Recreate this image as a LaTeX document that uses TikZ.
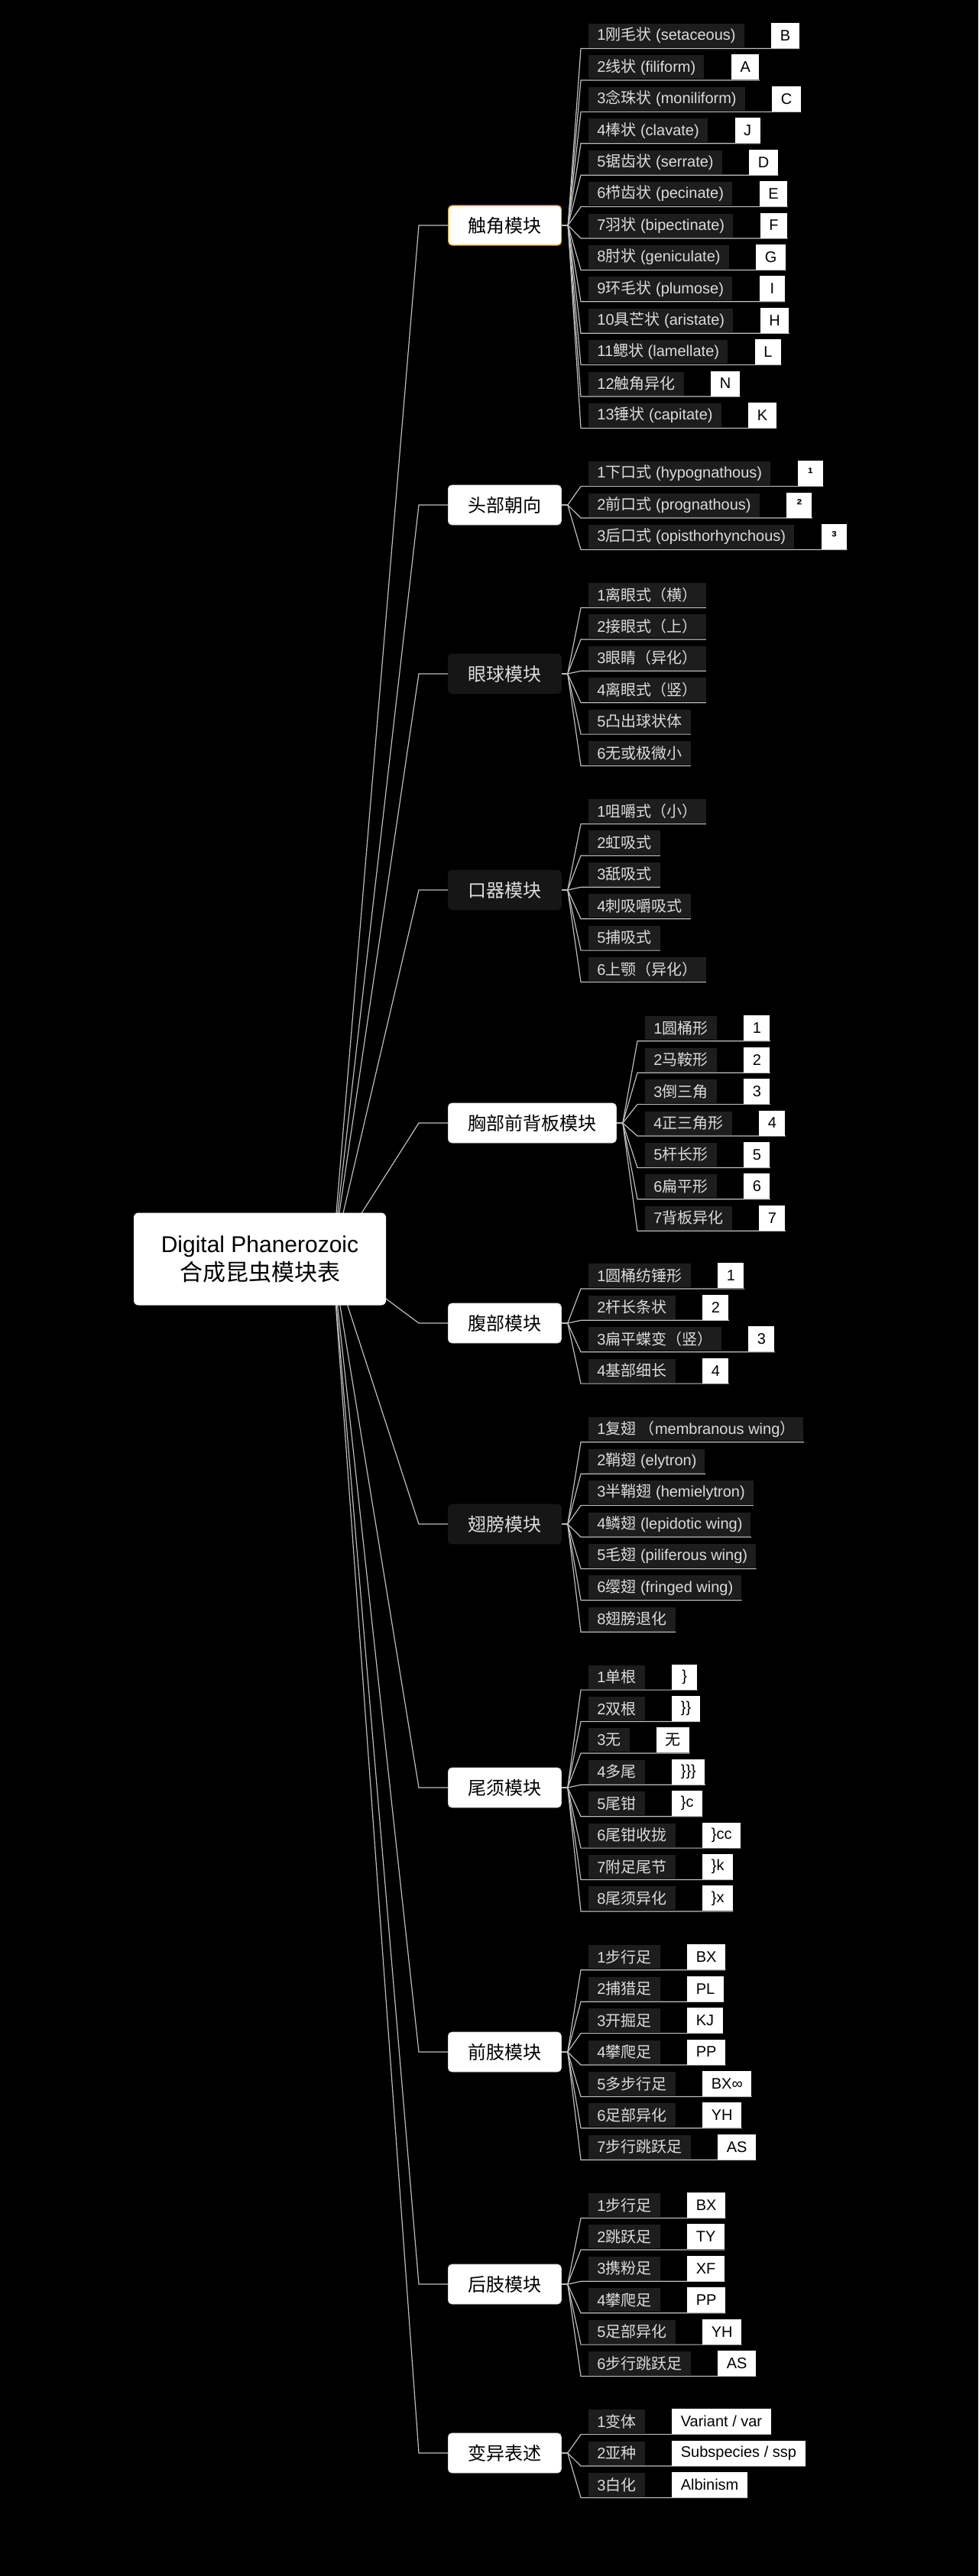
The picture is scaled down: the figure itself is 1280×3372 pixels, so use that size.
\documentclass[tikz,border=0pt]{standalone}
\usepackage{fontspec}
\setmainfont{Liberation Sans}
\newfontfamily\cjk{Noto Sans CJK SC}
\newcommand\zh[1]{{\cjk #1}}
\usetikzlibrary{
  positioning,
}
\pgfdeclarelayer{canvas}
\pgfdeclarelayer{wires}
\pgfsetlayers{canvas,wires,main}

\definecolor{leafgray}{HTML}{1D1D1D}
\definecolor{modgray}{HTML}{161616}
\definecolor{leaftext}{HTML}{DCDCDC}
\definecolor{wiregray}{HTML}{BEBEBE}
\definecolor{gold}{HTML}{E0A020}

\tikzset{
  root/.style={
    rectangle,
    rounded corners=3pt,
    fill=white,
    text=black,
    align=center,
    minimum width=165pt,
    minimum height=60.5pt,
    font=\fontsize{15}{18.5}\selectfont
  },
  module/.style={
    rectangle,
    rounded corners=2.5pt,
    fill=white,
    draw=white!85!black,
    line width=0.4pt,
    text=black,
    anchor=west,
    minimum height=26pt,
    inner xsep=13pt,
    font=\cjk\fontsize{12}{14}\selectfont
  },
  darkmodule/.style={
    module,
    fill=modgray,
    draw=modgray,
    text=leaftext
  },
  picked/.style={
    module,
    draw=gold,
    line width=0.6pt
  },
  leaf/.style={
    rectangle,
    fill=leafgray,
    text=leaftext,
    anchor=west,
    minimum height=15.5pt,
    inner xsep=5.5pt,
    inner ysep=0pt,
    font=\fontsize{10}{12}\selectfont
  },
  code/.style={
    rectangle,
    fill=white,
    text=black,
    minimum height=16.5pt,
    minimum width=16.5pt,
    inner xsep=5.75pt,
    inner ysep=0pt,
    font=\fontsize{10}{12}\selectfont
  },
  wire/.style={
    draw=wiregray,
    line width=0.6pt
  },
}

\begin{document}
\begin{tikzpicture}[x=0.5pt, y=-0.5pt]

  \useasboundingbox (0,0) rectangle (1280,3372);
  \begin{pgfonlayer}{canvas}
    \fill[black] (0,0) rectangle (1280,3372);
  \end{pgfonlayer}

  \node[root] (root) at (340,1648) {Digital Phanerozoic\\\zh{合成昆虫模块表}};

  \node[picked] (antenna) at (586,295) {触角模块};
  \node[module] (head) at (586,661) {头部朝向};
  \node[darkmodule] (eye) at (586,882) {眼球模块};
  \node[darkmodule] (mouth) at (586,1165) {口器模块};
  \node[module] (thorax) at (586,1470) {胸部前背板模块};
  \node[module] (abdomen) at (586,1732) {腹部模块};
  \node[darkmodule] (wing) at (586,1995) {翅膀模块};
  \node[module] (cerci) at (586,2340) {尾须模块};
  \node[module] (foreleg) at (586,2686) {前肢模块};
  \node[module] (hindleg) at (586,2990) {后肢模块};
  \node[module] (variant) at (586,3211) {变异表述};

  % root to modules
  \coordinate (hub) at (435,1648);
  \begin{pgfonlayer}{wires}
    \foreach \m in {antenna,head,eye,mouth,thorax,abdomen,wing,cerci,foreleg,hindleg,variant}
      \draw[wire] (hub) -- ([xshift=-19pt]\m.west) -- (\m.west);
  \end{pgfonlayer}

  % antennae
  \foreach \txt/\tag [count=\i] in {
    {1\zh{刚毛状} (setaceous)}/B,
    {2\zh{线状} (filiform)}/A,
    {3\zh{念珠状} (moniliform)}/C,
    {4\zh{棒状} (clavate)}/J,
    {5\zh{锯齿状} (serrate)}/D,
    {6\zh{栉齿状} (pecinate)}/E,
    {7\zh{羽状} (bipectinate)}/F,
    {8\zh{肘状} (geniculate)}/G,
    {9\zh{环毛状} (plumose)}/I,
    {10\zh{具芒状} (aristate)}/H,
    {11\zh{鳃状} (lamellate)}/L,
    {12\zh{触角异化}}/N,
    {13\zh{锤状} (capitate)}/K%
  }{
    \pgfmathsetmacro\y{295+(\i-7)*41.4}
    \node[leaf] (ant-\i) at (770,\y) {\txt};
    \node[code, right=17.5pt of ant-\i] (ant-\i-c) {\tag};
    \coordinate (u) at (760,\y+17);
    \begin{pgfonlayer}{wires}
      \draw[wire] (antenna.east) -- ++(8,0) -- (u) -- (ant-\i-c.east |- u);
    \end{pgfonlayer}
  }

  % head
  \foreach \txt/\tag [count=\i] in {
    {1\zh{下口式} (hypognathous)}/\textbf{¹},
    {2\zh{前口式} (prognathous)}/\textbf{²},
    {3\zh{后口式} (opisthorhynchous)}/\textbf{³}%
  }{
    \pgfmathsetmacro\y{661+(\i-2)*41.4}
    \node[leaf] (hd-\i) at (770,\y) {\txt};
    \node[code, right=17.5pt of hd-\i] (hd-\i-c) {\tag};
    \coordinate (u) at (760,\y+17);
    \begin{pgfonlayer}{wires}
      \draw[wire] (head.east) -- ++(8,0) -- (u) -- (hd-\i-c.east |- u);
    \end{pgfonlayer}
  }

  % eyes
  \foreach \txt [count=\i] in {
    1\zh{离眼式（横）},
    2\zh{接眼式（上）},
    3\zh{眼睛（异化）},
    4\zh{离眼式（竖）},
    5\zh{凸出球状体},
    6\zh{无或极微小}%
  }{
    \pgfmathsetmacro\y{882+(\i-3.5)*41.4}
    \node[leaf] (ey-\i) at (770,\y) {\txt};
    \coordinate (u) at (760,\y+17);
    \begin{pgfonlayer}{wires}
      \draw[wire] (eye.east) -- ++(8,0) -- (u) -- (ey-\i.east |- u);
    \end{pgfonlayer}
  }

  % mouthparts
  \foreach \txt [count=\i] in {
    1\zh{咀嚼式（小）},
    2\zh{虹吸式},
    3\zh{舐吸式},
    4\zh{刺吸嚼吸式},
    5\zh{捕吸式},
    6\zh{上颚（异化）}%
  }{
    \pgfmathsetmacro\y{1165+(\i-3.5)*41.4}
    \node[leaf] (mo-\i) at (770,\y) {\txt};
    \coordinate (u) at (760,\y+17);
    \begin{pgfonlayer}{wires}
      \draw[wire] (mouth.east) -- ++(8,0) -- (u) -- (mo-\i.east |- u);
    \end{pgfonlayer}
  }

  % pronotum
  \foreach \txt/\tag [count=\i] in {
    1\zh{圆桶形}/1,
    2\zh{马鞍形}/2,
    3\zh{倒三角}/3,
    4\zh{正三角形}/4,
    5\zh{杆长形}/5,
    6\zh{扁平形}/6,
    7\zh{背板异化}/7%
  }{
    \pgfmathsetmacro\y{1470+(\i-4)*41.4}
    \node[leaf] (th-\i) at (844,\y) {\txt};
    \node[code, right=17.5pt of th-\i] (th-\i-c) {\tag};
    \coordinate (u) at (834,\y+17);
    \begin{pgfonlayer}{wires}
      \draw[wire] (thorax.east) -- ++(8,0) -- (u) -- (th-\i-c.east |- u);
    \end{pgfonlayer}
  }

  % abdomen
  \foreach \txt/\tag [count=\i] in {
    1\zh{圆桶纺锤形}/1,
    2\zh{杆长条状}/2,
    3\zh{扁平蝶变（竖）}/3,
    4\zh{基部细长}/4%
  }{
    \pgfmathsetmacro\y{1732+(\i-2.5)*41.4}
    \node[leaf] (ab-\i) at (770,\y) {\txt};
    \node[code, right=17.5pt of ab-\i] (ab-\i-c) {\tag};
    \coordinate (u) at (760,\y+17);
    \begin{pgfonlayer}{wires}
      \draw[wire] (abdomen.east) -- ++(8,0) -- (u) -- (ab-\i-c.east |- u);
    \end{pgfonlayer}
  }

  % wings
  \foreach \txt [count=\i] in {
    {1\zh{复翅 （}membranous wing\zh{）}},
    {2\zh{鞘翅} (elytron)},
    {3\zh{半鞘翅} (hemielytron)},
    {4\zh{鳞翅} (lepidotic wing)},
    {5\zh{毛翅} (piliferous wing)},
    {6\zh{缨翅} (fringed wing)},
    8\zh{翅膀退化}%
  }{
    \pgfmathsetmacro\y{1995+(\i-4)*41.4}
    \node[leaf] (wg-\i) at (770,\y) {\txt};
    \coordinate (u) at (760,\y+17);
    \begin{pgfonlayer}{wires}
      \draw[wire] (wing.east) -- ++(8,0) -- (u) -- (wg-\i.east |- u);
    \end{pgfonlayer}
  }

  % cerci
  \foreach \txt/\tag [count=\i] in {
    1\zh{单根}/\},
    2\zh{双根}/\}\},
    3\zh{无}/\zh{无},
    4\zh{多尾}/\}\}\},
    5\zh{尾钳}/\}c,
    6\zh{尾钳收拢}/\}cc,
    7\zh{附足尾节}/\}k,
    8\zh{尾须异化}/\}x%
  }{
    \pgfmathsetmacro\y{2340+(\i-4.5)*41.4}
    \node[leaf] (ce-\i) at (770,\y) {\txt};
    \node[code, right=17.5pt of ce-\i] (ce-\i-c) {\tag};
    \coordinate (u) at (760,\y+17);
    \begin{pgfonlayer}{wires}
      \draw[wire] (cerci.east) -- ++(8,0) -- (u) -- (ce-\i-c.east |- u);
    \end{pgfonlayer}
  }

  % forelegs
  \foreach \txt/\tag [count=\i] in {
    1\zh{步行足}/BX,
    2\zh{捕猎足}/PL,
    3\zh{开掘足}/KJ,
    4\zh{攀爬足}/PP,
    5\zh{多步行足}/BX∞,
    6\zh{足部异化}/YH,
    7\zh{步行跳跃足}/AS%
  }{
    \pgfmathsetmacro\y{2686+(\i-4)*41.4}
    \node[leaf] (fl-\i) at (770,\y) {\txt};
    \node[code, right=17.5pt of fl-\i] (fl-\i-c) {\tag};
    \coordinate (u) at (760,\y+17);
    \begin{pgfonlayer}{wires}
      \draw[wire] (foreleg.east) -- ++(8,0) -- (u) -- (fl-\i-c.east |- u);
    \end{pgfonlayer}
  }

  % hindlegs
  \foreach \txt/\tag [count=\i] in {
    1\zh{步行足}/BX,
    2\zh{跳跃足}/TY,
    3\zh{携粉足}/XF,
    4\zh{攀爬足}/PP,
    5\zh{足部异化}/YH,
    6\zh{步行跳跃足}/AS%
  }{
    \pgfmathsetmacro\y{2990+(\i-3.5)*41.4}
    \node[leaf] (hl-\i) at (770,\y) {\txt};
    \node[code, right=17.5pt of hl-\i] (hl-\i-c) {\tag};
    \coordinate (u) at (760,\y+17);
    \begin{pgfonlayer}{wires}
      \draw[wire] (hindleg.east) -- ++(8,0) -- (u) -- (hl-\i-c.east |- u);
    \end{pgfonlayer}
  }

  % variation
  \foreach \txt/\tag [count=\i] in {
    1\zh{变体}/{Variant / var},
    2\zh{亚种}/{Subspecies / ssp},
    3\zh{白化}/Albinism%
  }{
    \pgfmathsetmacro\y{3211+(\i-2)*41.4}
    \node[leaf] (va-\i) at (770,\y) {\txt};
    \node[code, right=17.5pt of va-\i] (va-\i-c) {\tag};
    \coordinate (u) at (760,\y+17);
    \begin{pgfonlayer}{wires}
      \draw[wire] (variant.east) -- ++(8,0) -- (u) -- (va-\i-c.east |- u);
    \end{pgfonlayer}
  }

\end{tikzpicture}
\end{document}
